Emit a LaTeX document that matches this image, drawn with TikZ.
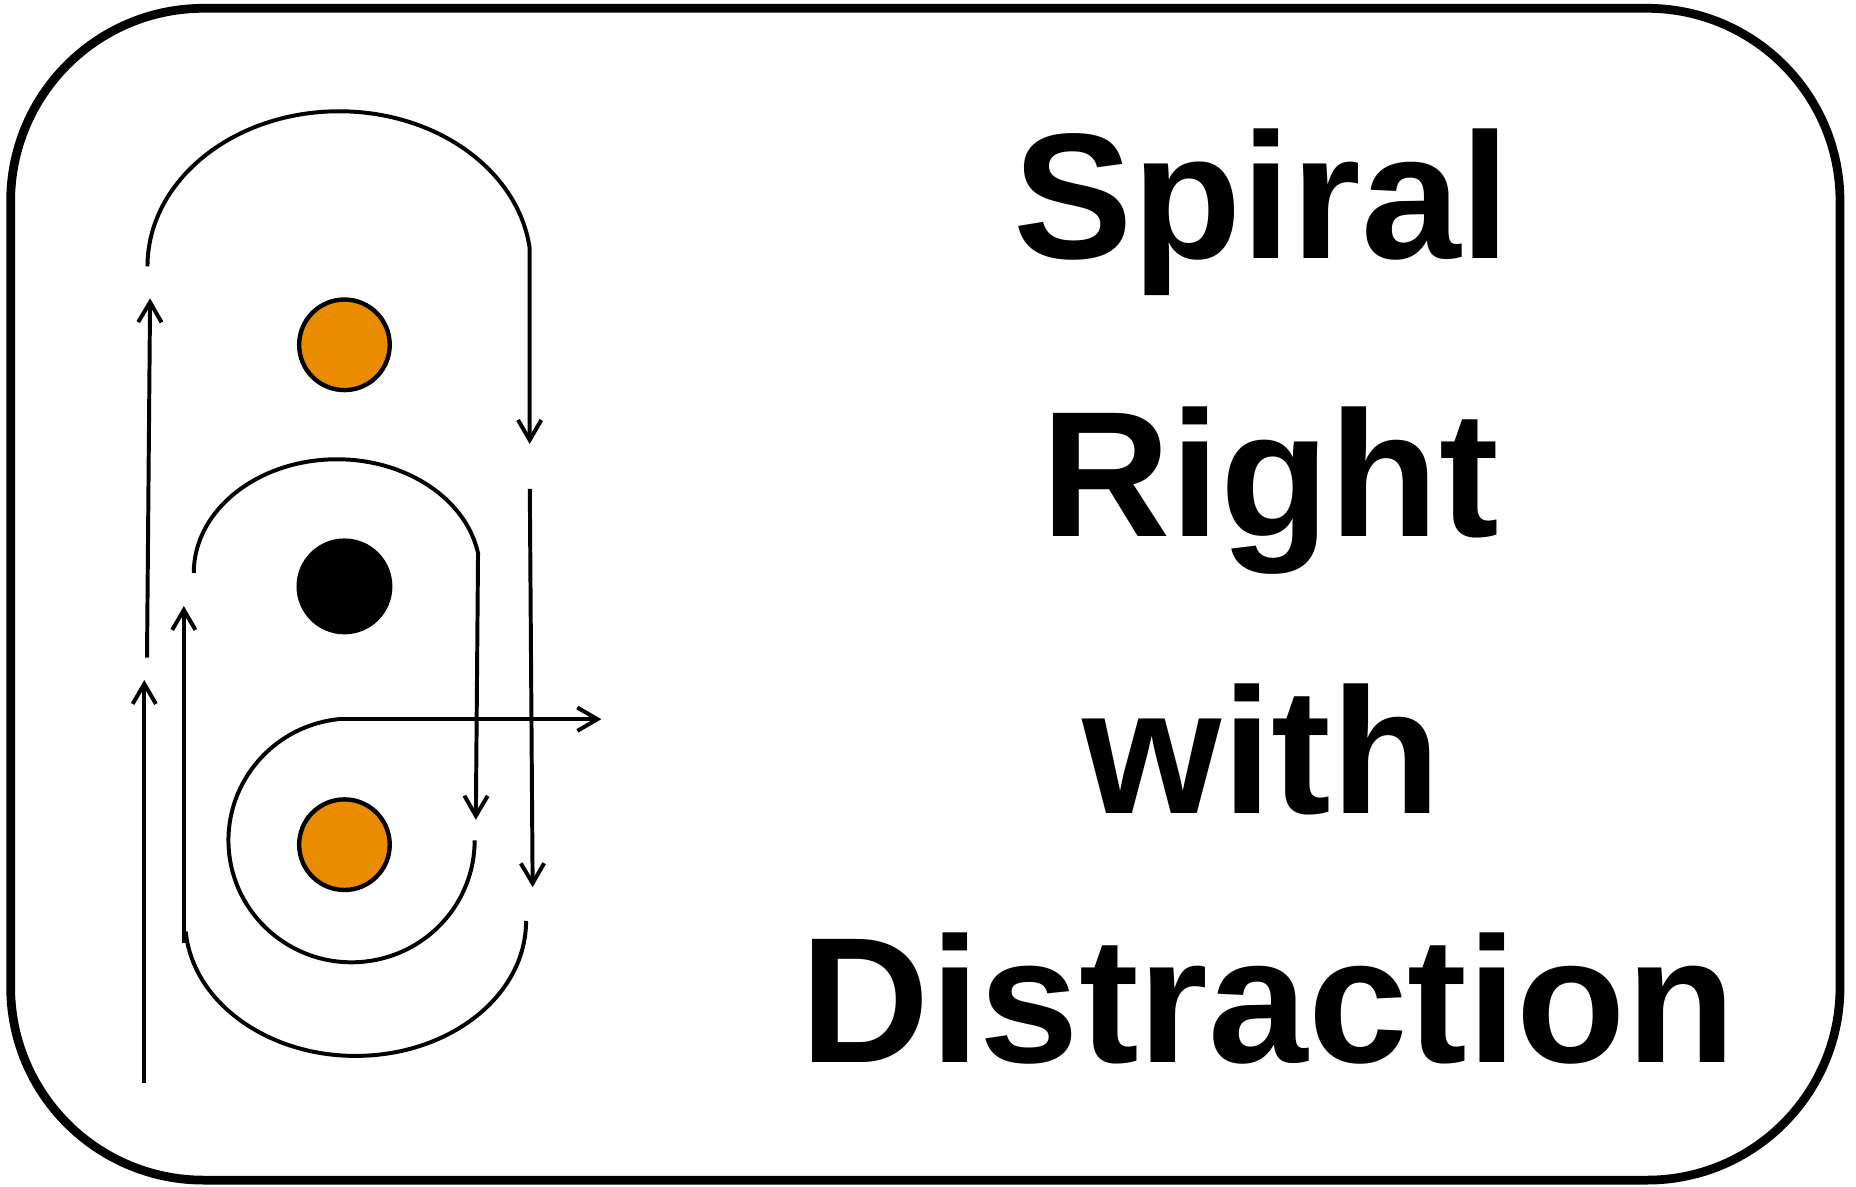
\documentclass[tikz,border=0pt]{standalone}
\usepackage{fontspec}
\setmainfont{Liberation Sans}
\usetikzlibrary{arrows.meta}
\definecolor{dotorange}{RGB}{233,140,0}
\tikzset{
  frame/.style={line width=2.1pt, rounded corners=1.63cm},
  track/.style={line width=0.95pt},
  trackarrow/.style={line width=0.95pt, -{Straight Barb[length=4.8pt,width=5.6pt,line width=0.95pt]}},
  orangedot/.style={circle, draw=black, line width=1.05pt, fill=dotorange, minimum size=0.765cm, inner sep=0pt},
  blackdot/.style={circle, fill=black, minimum size=0.81cm, inner sep=0pt},
  title/.style={anchor=base, inner sep=0pt, font=\bfseries\fontsize{43}{43}\selectfont}
}
\begin{document}
\begin{tikzpicture}[x=0.01cm, y=-0.01cm]
\useasboundingbox (0,0) rectangle (1568,1002);
\draw[frame] (9,7) rectangle (1554.5,997);

% dots
\node[orangedot] (topdot) at (291,291.3) {};
\node[blackdot]  (middot) at (291,495.4) {};
\node[orangedot] (botdot) at (291,713.6) {};

% named end points
\coordinate (a1s) at (124.6,225);
\coordinate (a1e) at (447.5,375);
\coordinate (l1s) at (124.2,555.5);
\coordinate (l1e) at (126.8,252);
\coordinate (a2s) at (163.7,484);
\coordinate (a2e) at (402,692.5);
\coordinate (l2s) at (447.6,413);
\coordinate (l2e) at (450,749.5);
\coordinate (l3s) at (121.9,915);
\coordinate (l3e) at (121.9,574.5);
\coordinate (l4s) at (155.3,797);
\coordinate (l4e) at (155.3,512);
\coordinate (a3s) at (156.9,787);
\coordinate (spS) at (285.6,607.6);
\coordinate (spE) at (508,607.6);

% upper loop
\draw[trackarrow] (a1s) arc[start angle=180, end angle=353, x radius=162, y radius=131] -- (a1e);
\draw[trackarrow] (l1s) -- (l1e);
% middle loop
\draw[trackarrow] (a2s) arc[start angle=180, end angle=350, x radius=121, y radius=96] -- (a2e);
\draw[trackarrow] (l2s) -- (l2e);
% lower left up arrows
\draw[trackarrow] (l3s) -- (l3e);
\draw[trackarrow] (l4s) -- (l4e);
% bottom loop
\draw[track] (a3s) arc[start angle=175.5, end angle=0, x radius=144, y radius=114];
% spiral to exit
\draw[track] (spS) arc[start angle=263.7, end angle=0, x radius=104, y radius=103];
\draw[trackarrow] (spS) -- (spE);

% text
\node[title] (t1) at (1066,218) {Spiral};
\node[title] (t2) at (1073,453) {Right};
\node[title] (t3) at (1066,687) {with};
\node[title] (t4) at (1071.5,898) {Distraction};
\end{tikzpicture}
\end{document}
